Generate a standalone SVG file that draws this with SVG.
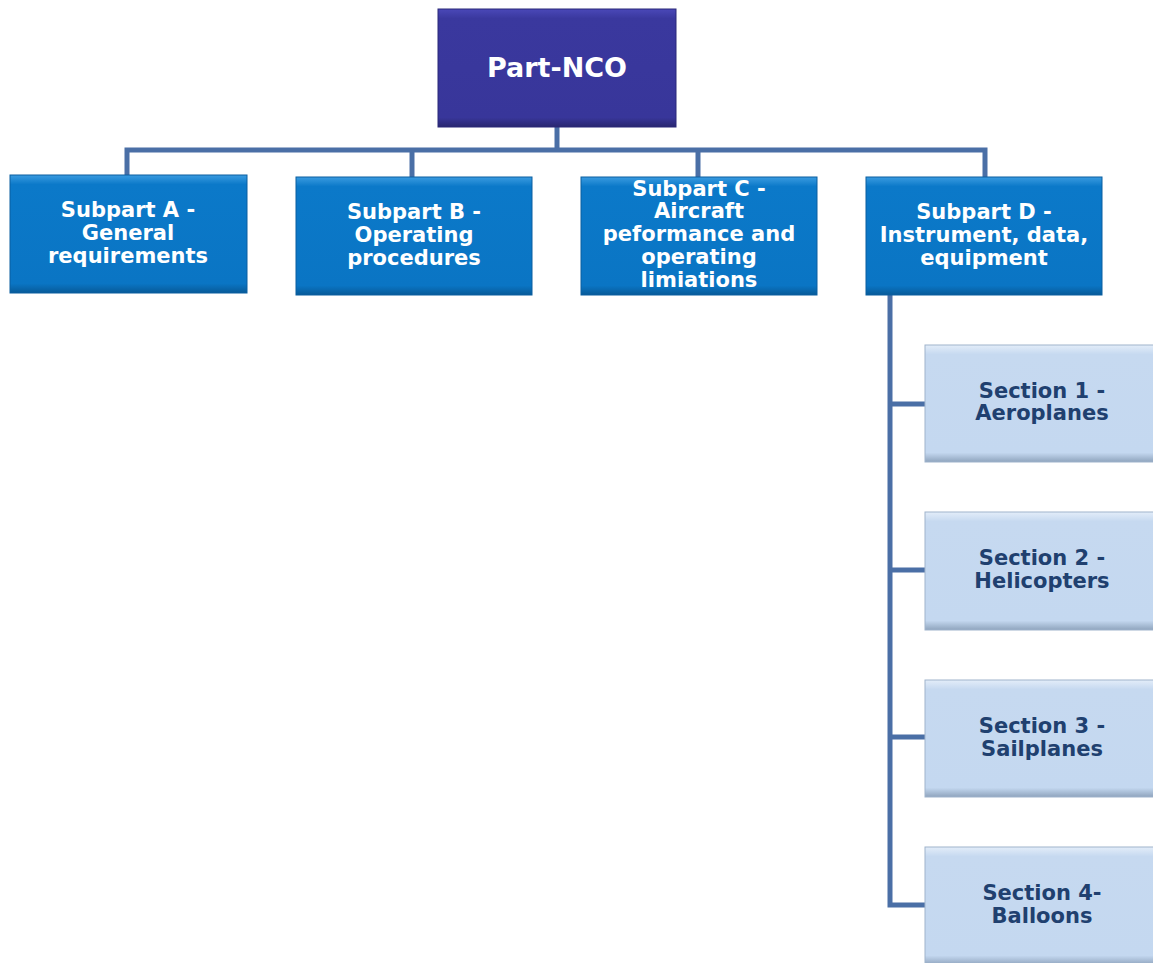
<svg xmlns="http://www.w3.org/2000/svg" width="1153" height="963" viewBox="0 0 1153 963">
<style>
.t{font-family:"DejaVu Sans","Verdana",sans-serif;font-weight:bold;text-anchor:middle}
.w{fill:#ffffff;font-size:21px}
.d{fill:#20406f;font-size:21px}
.top{fill:#ffffff;font-size:27px}
.conn{stroke:#4a6fa6;stroke-width:5;fill:none;stroke-linejoin:miter}
</style>
<defs>
<linearGradient id="gTop" x1="0" y1="0" x2="0" y2="1">
<stop offset="0" stop-color="#4a48b8"/><stop offset="0.08" stop-color="#3a389e"/><stop offset="0.92" stop-color="#38369a"/><stop offset="1" stop-color="#28266f"/>
</linearGradient>
<linearGradient id="gSub" x1="0" y1="0" x2="0" y2="1">
<stop offset="0" stop-color="#3a9be0"/><stop offset="0.08" stop-color="#0b79c9"/><stop offset="0.92" stop-color="#0a75c4"/><stop offset="1" stop-color="#075a98"/>
</linearGradient>
<linearGradient id="gSec" x1="0" y1="0" x2="0" y2="1">
<stop offset="0" stop-color="#e3edf9"/><stop offset="0.08" stop-color="#c6d9f0"/><stop offset="0.92" stop-color="#c4d8f0"/><stop offset="1" stop-color="#8fa4bd"/>
</linearGradient>
</defs>
<g id="connectors">
<path class="conn" d="M557 127 V150"/>
<path class="conn" d="M127 175 V150 H985 V177"/>
<path class="conn" d="M412 150 V177"/>
<path class="conn" d="M698 150 V177"/>
<path class="conn" d="M890 295 V905 H925"/>
<path class="conn" d="M890 404 H925"/>
<path class="conn" d="M890 570 H925"/>
<path class="conn" d="M890 737 H925"/>
</g>
<g id="part-nco">
<rect x="438" y="9" width="238" height="118" fill="url(#gTop)" stroke="#2a2878" stroke-width="1"/>
<text class="t top" x="557" y="77">Part-NCO</text>
</g>
<g id="subpart-a">
<rect x="10" y="175" width="237" height="118" fill="url(#gSub)" stroke="#0a5fa0" stroke-width="1"/>
<text class="t w" x="128" y="217">Subpart A -</text>
<text class="t w" x="128" y="240">General</text>
<text class="t w" x="128" y="263">requirements</text>
</g>
<g id="subpart-b">
<rect x="296" y="177" width="236" height="118" fill="url(#gSub)" stroke="#0a5fa0" stroke-width="1"/>
<text class="t w" x="414" y="219">Subpart B -</text>
<text class="t w" x="414" y="242">Operating</text>
<text class="t w" x="414" y="265">procedures</text>
</g>
<g id="subpart-c">
<rect x="581" y="177" width="236" height="118" fill="url(#gSub)" stroke="#0a5fa0" stroke-width="1"/>
<text class="t w" x="699" y="196">Subpart C -</text>
<text class="t w" x="699" y="218">Aircraft</text>
<text class="t w" x="699" y="241">peformance and</text>
<text class="t w" x="699" y="264">operating</text>
<text class="t w" x="699" y="287">limiations</text>
</g>
<g id="subpart-d">
<rect x="866" y="177" width="236" height="118" fill="url(#gSub)" stroke="#0a5fa0" stroke-width="1"/>
<text class="t w" x="984" y="219">Subpart D -</text>
<text class="t w" x="984" y="242">Instrument, data,</text>
<text class="t w" x="984" y="265">equipment</text>
</g>
<g id="section-1">
<rect x="925" y="345" width="232" height="117" fill="url(#gSec)" stroke="#9fb3cc" stroke-width="1"/>
<text class="t d" x="1042" y="398">Section 1 -</text>
<text class="t d" x="1042" y="420">Aeroplanes</text>
</g>
<g id="section-2">
<rect x="925" y="512" width="232" height="118" fill="url(#gSec)" stroke="#9fb3cc" stroke-width="1"/>
<text class="t d" x="1042" y="565">Section 2 -</text>
<text class="t d" x="1042" y="588">Helicopters</text>
</g>
<g id="section-3">
<rect x="925" y="680" width="232" height="117" fill="url(#gSec)" stroke="#9fb3cc" stroke-width="1"/>
<text class="t d" x="1042" y="733">Section 3 -</text>
<text class="t d" x="1042" y="756">Sailplanes</text>
</g>
<g id="section-4">
<rect x="925" y="847" width="232" height="118" fill="url(#gSec)" stroke="#9fb3cc" stroke-width="1"/>
<text class="t d" x="1042" y="900">Section 4-</text>
<text class="t d" x="1042" y="923">Balloons</text>
</g>
</svg>
